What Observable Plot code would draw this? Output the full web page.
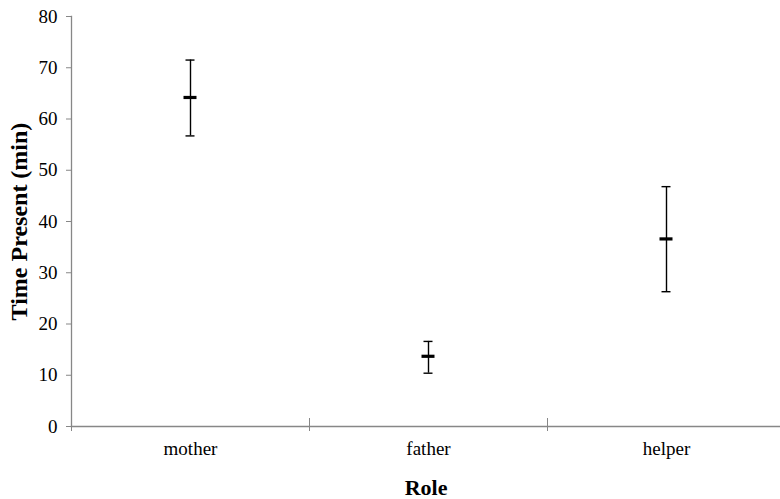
<!DOCTYPE html>
<html><head><meta charset="utf-8">
<script src="https://cdn.jsdelivr.net/npm/d3@7"></script>
<script src="https://cdn.jsdelivr.net/npm/@observablehq/plot@0.6"></script>
<style>
body{margin:0;background:#fff}
#chart svg, #chart svg text {font-family: 'Liberation Serif', 'Times New Roman', serif !important;}
</style>
</head><body><div id="chart"></div>
<script>
// Data
const roles = ["mother", "father", "helper"];
const means = [64.2, 13.7, 36.6];
const lows = [56.7, 10.4, 26.3];
const highs = [71.5, 16.6, 46.8];
const yTicks = [0, 10, 20, 30, 40, 50, 60, 70, 80];
const yLabel = "Time Present (min)";
const xLabel = "Role";

const data = roles.map((r, i) => ({role: r, mean: means[i], lo: lows[i], hi: highs[i]}));

const serif = "'Liberation Serif', 'Times New Roman', serif";
const left = 71, right = 785;
const half = (right - left) / roles.length / 2;

const chart = Plot.plot({
  width: 780,
  height: 499,
  marginLeft: 71,
  marginRight: 0,
  marginTop: 16,
  marginBottom: 73,
  style: {fontFamily: serif, background: "#fff", color: "#000"},
  x: {type: "band", domain: roles, range: [left, right], padding: 0, axis: null},
  y: {domain: [0, 80], axis: null},
  marks: [
    Plot.frame({anchor: "left", stroke: "#878787", strokeWidth: 1.3}),
    Plot.frame({anchor: "bottom", stroke: "#878787", strokeWidth: 1.3}),
    Plot.axisY({ticks: yTicks, tickSize: 5, tickPadding: 9, stroke: "#878787", fill: "#000", fontSize: 19, fontFamily: serif, label: null}),
    Plot.axisX({ticks: roles, tickSize: 13, dy: -8, dx: -half, tickFormat: () => "", stroke: "#878787", label: null}),
    Plot.axisX({ticks: roles, tickSize: 0, tickPadding: 15, fill: "#000", fontSize: 19, fontFamily: serif, label: null}),
    Plot.ruleX(data, {x: "role", y1: "lo", y2: "hi", stroke: "#000", strokeWidth: 1.4}),
    Plot.tickY(data, {x: "role", y: "lo", stroke: "#000", strokeWidth: 1.4, insetLeft: half - 4.5, insetRight: half - 4.5}),
    Plot.tickY(data, {x: "role", y: "hi", stroke: "#000", strokeWidth: 1.4, insetLeft: half - 4.5, insetRight: half - 4.5}),
    Plot.tickY(data, {x: "role", y: "mean", stroke: "#000", strokeWidth: 3.2, insetLeft: half - 6.5, insetRight: half - 6.5}),
    Plot.text([yLabel], {text: d => d, frameAnchor: "left", textAnchor: "middle", lineAnchor: "middle", rotate: -90, dx: -52, fontSize: 24, fontWeight: "bold", fontFamily: serif, fill: "#000"}),
    Plot.text([xLabel], {text: d => d, frameAnchor: "bottom", textAnchor: "middle", lineAnchor: "middle", dy: 61, fontSize: 22, fontWeight: "bold", fontFamily: serif, fill: "#000"})
  ]
});
document.getElementById("chart").appendChild(chart);
</script>
</body></html>
